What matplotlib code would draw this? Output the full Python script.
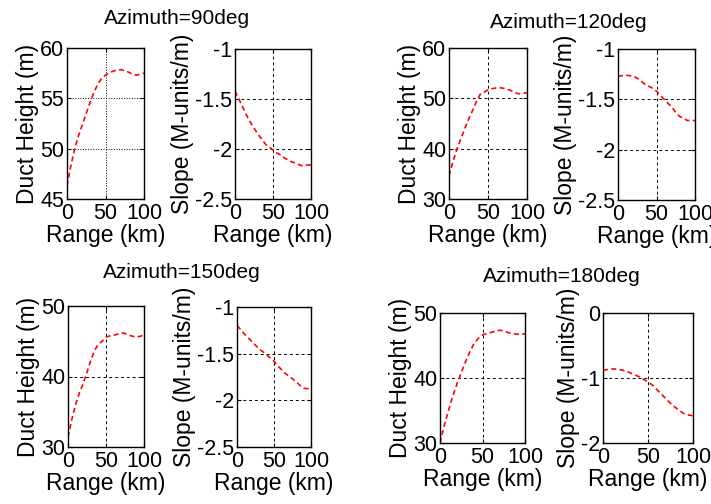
import numpy as np
import matplotlib
matplotlib.use("Agg")
import matplotlib.pyplot as plt
from matplotlib.ticker import FuncFormatter

plt.rcParams['font.family'] = ['Liberation Sans', 'DejaVu Sans']
plt.rcParams['axes.unicode_minus'] = False

# range axis (km)
rng = np.arange(0, 101, 5)

# duct height (m) and slope (M-units/m)
duct_90 = [46.3, 48.3, 50.0, 51.3, 52.4, 53.5, 54.6, 55.6, 56.4, 57.0, 57.3,
           57.55, 57.7, 57.8, 57.85, 57.75, 57.6, 57.4, 57.3, 57.4, 57.5]
slope_90 = [-1.42, -1.50, -1.58, -1.66, -1.73, -1.79, -1.85, -1.90, -1.95, -1.98, -2.01,
            -2.04, -2.06, -2.09, -2.11, -2.13, -2.14, -2.16, -2.17, -2.16, -2.16]
duct_120 = [34.6, 37.4, 39.8, 41.9, 43.9, 45.8, 47.5, 49.3, 50.8, 51.2, 51.7,
            51.9, 52.05, 52.1, 52.0, 51.8, 51.5, 51.1, 50.9, 51.0, 51.1]
slope_120 = [-1.27, -1.265, -1.26, -1.265, -1.27, -1.29, -1.32, -1.35, -1.37, -1.39, -1.42,
             -1.46, -1.50, -1.54, -1.58, -1.63, -1.67, -1.69, -1.71, -1.71, -1.71]
duct_150 = [31.4, 33.9, 36.0, 37.7, 39.0, 40.6, 42.3, 43.7, 44.6, 45.0, 45.6,
            45.75, 45.85, 46.0, 46.2, 46.1, 45.9, 45.7, 45.6, 45.7, 45.9]
slope_150 = [-1.20, -1.24, -1.29, -1.33, -1.37, -1.41, -1.45, -1.48, -1.51, -1.55, -1.58,
             -1.63, -1.67, -1.71, -1.74, -1.77, -1.80, -1.84, -1.87, -1.875, -1.875]
duct_180 = [30.0, 32.7, 35.0, 37.2, 39.1, 40.8, 42.5, 44.0, 45.3, 46.1, 46.6,
            46.85, 47.0, 47.2, 47.35, 47.25, 47.0, 46.85, 46.75, 46.75, 46.8]
slope_180 = [-0.88, -0.87, -0.86, -0.865, -0.875, -0.89, -0.92, -0.95, -0.98, -1.02, -1.06,
             -1.11, -1.18, -1.25, -1.32, -1.39, -1.45, -1.50, -1.55, -1.57, -1.58]

titles = ['Azimuth=90deg', 'Azimuth=120deg', 'Azimuth=150deg', 'Azimuth=180deg']

W, H = 711, 504
fig = plt.figure(figsize=(W / 100, H / 100), dpi=100)

def add_ax(l, r, t, b):
    return fig.add_axes([l / W, 1 - b / H, (r - l) / W, (b - t) / H])

fmt = FuncFormatter(lambda v, p: '%g' % v)

def style(ax, x, y, ylim, yticks, ylabel, grid_ls):
    ax.plot(x, y, color='red', ls=(0, (3, 2)), lw=1.2)
    ax.set_xlim(0, 100)
    ax.set_ylim(*ylim)
    ax.set_xticks([0, 50, 100])
    ax.set_yticks(yticks)
    ax.xaxis.set_major_formatter(fmt)
    ax.yaxis.set_major_formatter(fmt)
    ax.tick_params(direction='in', length=3, labelsize=15.5, top=True, right=True)
    ax.tick_params(axis='x', pad=3)
    ax.tick_params(axis='y', pad=2)
    ax.grid(True, color='black', ls=grid_ls, lw=0.7)
    ax.set_xlabel('Range (km)', fontsize=16.5, labelpad=0)
    ax.set_ylabel(ylabel, fontsize=16.5, labelpad=1)
    for s in ax.spines.values():
        s.set_linewidth(1.0)

# pixel boxes (left, right, top, bottom)
boxes = [
    ((67, 144, 48, 199), (235, 311, 49, 199)),
    ((449, 527, 48, 199), (618, 695, 49, 200)),
    ((68, 144, 306, 447), (237, 311, 307, 447)),
    ((440, 525, 313, 443), (603, 693, 313, 443)),
]
ducts = [duct_90, duct_120, duct_150, duct_180]
slopes = [slope_90, slope_120, slope_150, slope_180]
duct_lims = [((45, 60), [45, 50, 55, 60]), ((30, 60), [30, 40, 50, 60]),
             ((30, 50), [30, 40, 50]), ((30, 50), [30, 40, 50])]
slope_lims = [((-2.5, -1), [-2.5, -2, -1.5, -1])] * 3 + [((-2, 0), [-2, -1, 0])]
title_pos = [(177, 18), (569, 22), (182, 273), (562, 277)]

for i in range(4):
    a1 = add_ax(*boxes[i][0])
    style(a1, rng, ducts[i], duct_lims[i][0], duct_lims[i][1], 'Duct Height (m)',
          ':' if i == 0 else (0, (3, 3)))
    a2 = add_ax(*boxes[i][1])
    style(a2, rng, slopes[i], slope_lims[i][0], slope_lims[i][1], 'Slope (M-units/m)',
          (0, (3, 3)))
    fig.text(title_pos[i][0] / W, 1 - title_pos[i][1] / H, titles[i],
             ha='center', va='center', fontsize=15)

fig.savefig('out.png', dpi=100)
